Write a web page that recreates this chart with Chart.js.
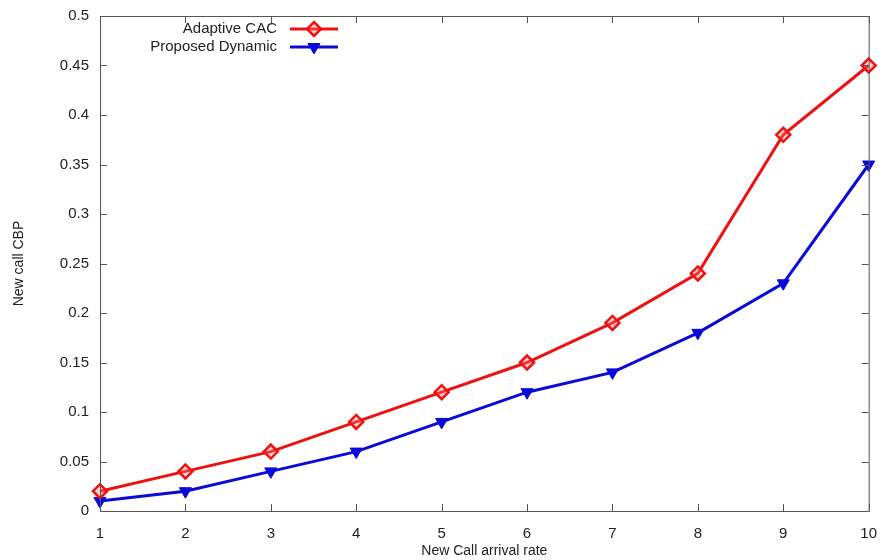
<!DOCTYPE html>
<html>
<head>
<meta charset="utf-8">
<script src="https://cdn.jsdelivr.net/npm/chart.js@4/dist/chart.umd.min.js"></script>
<style>
  html, body { margin: 0; padding: 0; background: #fff; }
  #wrap { width: 883px; height: 560px; }
</style>
</head>
<body>
<div id="wrap"><canvas id="chart"></canvas></div>
<script>
const arrivalRate = [1, 2, 3, 4, 5, 6, 7, 8, 9, 10]
const adaptiveCac = [0.02, 0.04, 0.06, 0.09, 0.12, 0.15, 0.19, 0.24, 0.38, 0.45]
const proposedDynamic = [0.01, 0.02, 0.04, 0.06, 0.09, 0.12, 0.14, 0.18, 0.23, 0.35]
const yTickLabels = ['0', '0.05', '0.1', '0.15', '0.2', '0.25', '0.3', '0.35', '0.4', '0.45', '0.5']

const FONT = 'Liberation Sans, Arial, Helvetica, sans-serif'
const RED = '#ee1111'
const BLUE = '#0a0ad8'

function drawMarker(ctx, ds, x, y) {
    Chart.helpers.drawPoint(ctx, {
        pointStyle: ds.pointStyle,
        radius: ds.pointRadius,
        rotation: ds.pointRotation || 0,
        borderWidth: ds.pointBorderWidth
    }, x, y)
}

// gnuplot style frame: border box plus inward ticks on every side
const framePlugin = {
    id: 'frame',
    afterDatasetsDraw(chart) {
        const { ctx, chartArea: a, scales } = chart
        ctx.save()
        ctx.strokeStyle = '#555'
        ctx.lineWidth = 1
        ctx.strokeRect(a.left + 0.5, a.top + 0.5, a.right - a.left, a.bottom - a.top)
        ctx.beginPath()
        scales.y.ticks.forEach(t => {
            const y = Math.round(scales.y.getPixelForValue(t.value)) + 0.5
            ctx.moveTo(a.left, y); ctx.lineTo(a.left + 7, y)
            ctx.moveTo(a.right, y); ctx.lineTo(a.right - 7, y)
        })
        scales.x.ticks.forEach(t => {
            const x = Math.round(scales.x.getPixelForValue(t.value)) + 0.5
            ctx.moveTo(x, a.bottom); ctx.lineTo(x, a.bottom - 7)
            ctx.moveTo(x, a.top); ctx.lineTo(x, a.top + 7)
        })
        ctx.stroke()

        // legend, top left inside the frame
        ctx.font = '15px ' + FONT
        ctx.textAlign = 'right'
        ctx.textBaseline = 'middle'
        chart.data.datasets.forEach((ds, i) => {
            const y = a.top + 13 + i * 18
            ctx.fillStyle = '#222'
            ctx.fillText(ds.label, a.left + 177, y)
            ctx.strokeStyle = ds.borderColor
            ctx.lineWidth = 3
            ctx.beginPath()
            ctx.moveTo(a.left + 190, y); ctx.lineTo(a.left + 238, y)
            ctx.stroke()
            ctx.fillStyle = ds.pointBackgroundColor
            ctx.strokeStyle = ds.borderColor
            ctx.lineWidth = ds.pointBorderWidth
            drawMarker(ctx, ds, a.left + 214, y)
        })
        ctx.restore()
    }
}

new Chart(document.getElementById('chart'), {
    type: 'line',
    data: {
        labels: arrivalRate,
        datasets: [
            {
                label: 'Adaptive CAC',
                data: arrivalRate.map((x, i) => ({ x: x, y: adaptiveCac[i] })),
                borderColor: RED,
                borderWidth: 3,
                pointStyle: 'rectRot',
                pointRadius: 7,
                pointBorderWidth: 2.5,
                pointBackgroundColor: 'rgba(255,120,120,0.35)',
                pointBorderColor: RED,
                tension: 0,
                clip: false
            },
            {
                label: 'Proposed Dynamic',
                data: arrivalRate.map((x, i) => ({ x: x, y: proposedDynamic[i] })),
                borderColor: BLUE,
                borderWidth: 3,
                pointStyle: 'triangle',
                pointRotation: 180,
                pointRadius: 7,
                pointBorderWidth: 1,
                pointBackgroundColor: BLUE,
                pointBorderColor: BLUE,
                tension: 0,
                clip: false
            }
        ]
    },
    options: {
        responsive: true,
        maintainAspectRatio: false,
        animation: false,
        layout: { padding: { left: 0, right: 13, top: 16, bottom: 0 } },
        plugins: {
            legend: { display: false },
            tooltip: { enabled: false }
        },
        scales: {
            x: {
                type: 'linear',
                min: 1,
                max: 10,
                grid: { display: false },
                border: { display: false },
                ticks: {
                    stepSize: 1,
                    padding: 6,
                    color: '#222',
                    font: { family: FONT, size: 15 }
                },
                title: {
                    display: true,
                    text: 'New Call arrival rate',
                    color: '#222',
                    padding: { top: 4, bottom: 0 },
                    font: { family: FONT, size: 14 }
                },
                afterFit(scale) { scale.height = 49 }
            },
            y: {
                min: 0,
                max: 0.5,
                grid: { display: false },
                border: { display: false },
                ticks: {
                    stepSize: 0.05,
                    padding: 3,
                    color: '#222',
                    font: { family: FONT, size: 15 },
                    callback: (v, i) => yTickLabels[i]
                },
                title: {
                    display: true,
                    text: 'New call CBP',
                    color: '#222',
                    padding: { top: 11, bottom: 0 },
                    font: { family: FONT, size: 14 }
                },
                afterFit(scale) { scale.width = 100 }
            }
        }
    },
    plugins: [framePlugin]
})
</script>
</body>
</html>
